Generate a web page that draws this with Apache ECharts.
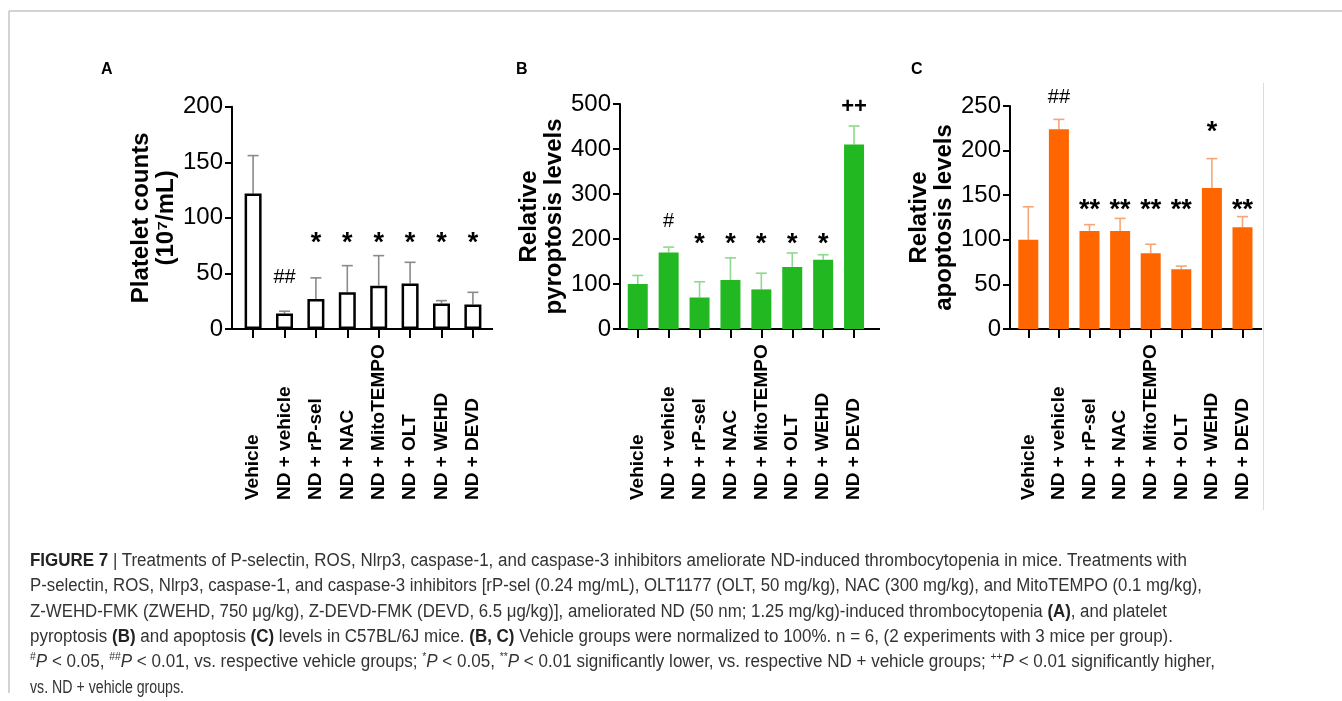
<!DOCTYPE html>
<html>
<head>
<meta charset="utf-8">
<script src="https://cdn.jsdelivr.net/npm/echarts@6/dist/echarts.min.js"></script>
<style>
  html, body { margin: 0; padding: 0; background: #fff; }
  #wrap { position: relative; width: 1342px; height: 701px; overflow: hidden; }
  #chart { position: absolute; left: 0; top: 0; width: 1342px; height: 701px; }
  .cap { position: absolute; white-space: nowrap; font-family: "Liberation Sans Narrow", "Liberation Sans", Arial, sans-serif;
         font-size: 18px; color: #333; transform-origin: 0 50%; line-height: 20px; }
  .cap b { color: #222; }
  .cap sup { font-size: 11px; vertical-align: 7px; line-height: 0; }
</style>
</head>
<body>
<div id="wrap">
  <div id="chart"></div>
  <div class="cap" data-end="1187"><b>FIGURE 7</b> | Treatments of P-selectin, ROS, Nlrp3, caspase-1, and caspase-3 inhibitors ameliorate ND-induced thrombocytopenia in mice. Treatments with</div>
  <div class="cap" data-end="1202">P-selectin, ROS, Nlrp3, caspase-1, and caspase-3 inhibitors [rP-sel (0.24 mg/mL), OLT1177 (OLT, 50 mg/kg), NAC (300 mg/kg), and MitoTEMPO (0.1 mg/kg),</div>
  <div class="cap" data-end="1167">Z-WEHD-FMK (ZWEHD, 750 μg/kg), Z-DEVD-FMK (DEVD, 6.5 μg/kg)], ameliorated ND (50 nm; 1.25 mg/kg)-induced thrombocytopenia <b>(A)</b>, and platelet</div>
  <div class="cap" data-end="1173">pyroptosis <b>(B)</b> and apoptosis <b>(C)</b> levels in C57BL/6J mice. <b>(B, C)</b> Vehicle groups were normalized to 100%. n = 6, (2 experiments with 3 mice per group).</div>
  <div class="cap" data-end="1215"><sup>#</sup><i>P</i> &lt; 0.05, <sup>##</sup><i>P</i> &lt; 0.01, vs. respective vehicle groups; <sup>*</sup><i>P</i> &lt; 0.05, <sup>**</sup><i>P</i> &lt; 0.01 significantly lower, vs. respective ND + vehicle groups; <sup>++</sup><i>P</i> &lt; 0.01 significantly higher,</div>
  <div class="cap" data-end="184">vs. ND + vehicle groups.</div>
</div>
<script>
// ---------------- data ----------------
const categories = ['Vehicle', 'ND + vehicle', 'ND + rP-sel', 'ND + NAC', 'ND + MitoTEMPO', 'ND + OLT', 'ND + WEHD', 'ND + DEVD'];

const plateletMean = [122, 14, 27, 33, 39, 41, 23, 22];
const plateletSD   = [34, 2, 19, 24, 27, 19, 2.5, 11];
const plateletMarks = ['', '##', '*', '*', '*', '*', '*', '*'];
const plateletTicks = [0, 50, 100, 150, 200];

const pyroMean = [100, 170, 70, 109, 88, 138, 154, 410];
const pyroSD   = [19, 12, 35, 49, 36, 31, 11, 41];
const pyroMarks = ['', '#', '*', '*', '*', '*', '*', '++'];
const pyroTicks = [0, 100, 200, 300, 400, 500];

const apopMean = [100, 224, 110, 110, 85, 67, 158, 114];
const apopSD   = [37, 11, 7, 14, 10, 3.5, 33, 12];
const apopMarks = ['', '##', '**', '**', '**', '**', '*', '**'];
const apopTicks = [0, 50, 100, 150, 200, 250];

// ---------------- layout ----------------
const FONT = '"Liberation Sans", Arial, Helvetica, sans-serif';
const panels = [
  { key: 'A', mean: plateletMean, sd: plateletSD, marks: plateletMarks, ticks: plateletTicks,
    axisX: 232, left: 237.4, width: 251.2, top: 106.7, bottom: 329, axisEnd: 493,
    name: 'Platelet counts\n(10⁷/mL)', nameGap: 50,
    fill: '#ffffff', border: '#000000', borderW: 2.5, barW: 17, err: '#8a8a8a',
    markLevel: { '##': 46, '#': 46, '*': 76.5, '**': 76.5, '++': 190 }, labelX: 101 },
  { key: 'B', mean: pyroMean, sd: pyroSD, marks: pyroMarks, ticks: pyroTicks,
    axisX: 620, left: 622.3, width: 247.2, top: 104, bottom: 329, axisEnd: 880,
    name: 'Relative\npyroptosis levels', nameGap: 48,
    fill: '#22b822', border: '#22b822', borderW: 0, barW: 20, err: '#8fd98f',
    markLevel: { '#': 238, '*': 188, '++': 494 }, labelX: 516 },
  { key: 'C', mean: apopMean, sd: apopSD, marks: apopMarks, ticks: apopTicks,
    axisX: 1010, left: 1013, width: 244.8, top: 106, bottom: 329, axisEnd: 1262,
    name: 'Relative\napoptosis levels', nameGap: 32,
    fill: '#ff6600', border: '#ff6600', borderW: 0, barW: 20, err: '#f4a679',
    markLevel: { '##': 260, '*': 220, '**': 132.5 }, labelX: 911 }
];

const markFont = { '#': 20, '##': 20, '*': 27, '**': 27, '++': 22 };
const markWeight = { '#': 'normal', '##': 'normal', '*': 'bold', '**': 'bold', '++': 'bold' };

const grids = [], xAxes = [], yAxes = [], series = [], graphics = [];

panels.forEach((p, k) => {
  grids.push({ left: p.left, top: p.top, width: p.width, height: p.bottom - p.top, containLabel: false });
  const n = p.ticks.length;
  xAxes.push({
    type: 'category', gridIndex: k, data: categories,
    axisLine: { show: true, lineStyle: { color: '#000', width: 2 } },
    axisTick: { show: true, alignWithLabel: true, length: 9, lineStyle: { color: '#000', width: 2 } },
    axisLabel: { interval: 0, rotate: 90, align: 'left', verticalAlign: 'middle', margin: 171,
      fontFamily: FONT, fontWeight: 'bold', fontSize: 19, color: '#000' },
    splitLine: { show: false }
  });
  yAxes.push({
    type: 'value', gridIndex: k, min: p.ticks[0], max: p.ticks[n - 1], interval: p.ticks[1] - p.ticks[0],
    offset: p.left - p.axisX,
    axisLine: { show: true, lineStyle: { color: '#000', width: 2 } },
    axisTick: { show: true, length: 7, lineStyle: { color: '#000', width: 2 } },
    axisLabel: { margin: 9, fontFamily: FONT, fontSize: 24, color: '#000' },
    splitLine: { show: false },
    name: p.name, nameLocation: 'middle', nameRotate: 90, nameGap: p.nameGap,
    nameTextStyle: { fontFamily: FONT, fontWeight: 'bold', fontSize: 24, color: '#000', lineHeight: 25 }
  });
  // error bars (upper only)
  series.push({
    type: 'custom', xAxisIndex: k, yAxisIndex: k, z: 1, silent: true, clip: false,
    data: p.mean.map((m, i) => [i, m, p.sd[i]]),
    renderItem: function (params, api) {
      const x = api.value(0), m = api.value(1), s = api.value(2);
      const a = api.coord([x, m]), b = api.coord([x, m + s]);
      const st = { stroke: p.err, lineWidth: 1.6 };
      return { type: 'group', children: [
        { type: 'line', shape: { x1: a[0], y1: a[1], x2: b[0], y2: b[1] }, style: st },
        { type: 'line', shape: { x1: b[0] - 5.5, y1: b[1], x2: b[0] + 5.5, y2: b[1] }, style: st }
      ] };
    }
  });
  // bars
  series.push({
    type: 'bar', xAxisIndex: k, yAxisIndex: k, z: 2, barWidth: p.barW, silent: true,
    data: p.mean,
    itemStyle: { color: p.fill, borderColor: p.border, borderWidth: p.borderW }
  });
  // significance marks
  series.push({
    type: 'custom', xAxisIndex: k, yAxisIndex: k, z: 3, silent: true, clip: false,
    data: p.marks.map((t, i) => [i, t ? p.markLevel[t] : 0]),
    renderItem: function (params, api) {
      const t = p.marks[params.dataIndex];
      if (!t) return null;
      const c = api.coord([api.value(0), api.value(1)]);
      return { type: 'text', x: c[0], y: c[1], style: {
        text: t, fill: '#000', align: 'center', verticalAlign: 'middle',
        font: markWeight[t] + ' ' + markFont[t] + 'px ' + FONT } };
    }
  });
  // axis line extensions so the x axis meets the y axis (as in the reference)
  graphics.push({ type: 'line', shape: { x1: p.axisX - 1, y1: p.bottom, x2: p.left, y2: p.bottom },
    style: { stroke: '#000', lineWidth: 2 } });
  graphics.push({ type: 'line', shape: { x1: p.left + p.width, y1: p.bottom, x2: p.axisEnd, y2: p.bottom },
    style: { stroke: '#000', lineWidth: 2 } });
  // panel letter
  graphics.push({ type: 'text', x: p.labelX, y: 70, style: { text: p.key, font: 'bold 16px ' + FONT,
    fill: '#000', verticalAlign: 'middle' } });
});

// frame lines of the figure
graphics.push({ type: 'line', shape: { x1: 9, y1: 11, x2: 1342, y2: 11 }, style: { stroke: '#c4c4c4', lineWidth: 1.5 } });
graphics.push({ type: 'line', shape: { x1: 9, y1: 11, x2: 9, y2: 693 }, style: { stroke: '#c4c4c4', lineWidth: 1.5 } });
graphics.push({ type: 'line', shape: { x1: 1263.5, y1: 83, x2: 1263.5, y2: 510 }, style: { stroke: '#dcdcdc', lineWidth: 1 } });

const chart = echarts.init(document.getElementById('chart'), null, { renderer: 'canvas' });
chart.setOption({
  animation: false,
  backgroundColor: '#ffffff',
  grid: grids, xAxis: xAxes, yAxis: yAxes, series: series,
  graphic: graphics
});

// caption layout: fit each line to its measured width in the reference
const capLeft = 30, capTop = 560, capStep = 25.3;
document.querySelectorAll('.cap').forEach((el, i) => {
  el.style.left = capLeft + 'px';
  el.style.top = (capTop + i * capStep - 10) + 'px';
  const w = el.getBoundingClientRect().width;
  const target = parseFloat(el.dataset.end) - capLeft;
  el.style.transform = 'scaleX(' + (target / w).toFixed(4) + ')';
});
</script>
</body>
</html>
